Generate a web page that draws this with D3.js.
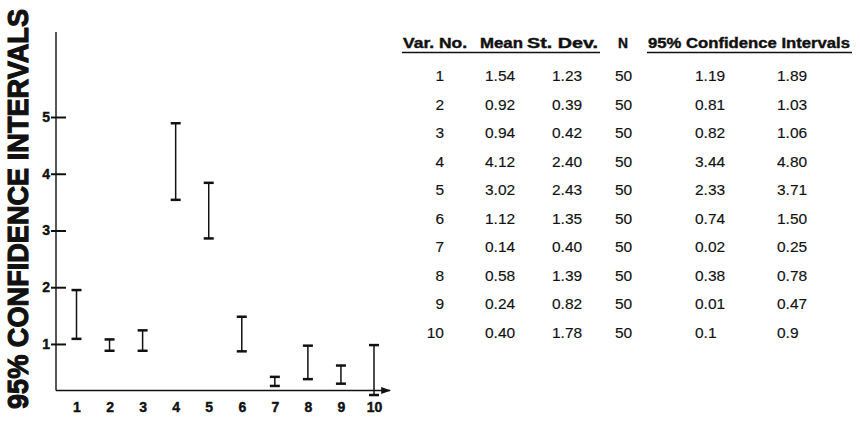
<!DOCTYPE html>
<html>
<head>
<meta charset="utf-8">
<script src="https://cdn.jsdelivr.net/npm/d3@7"></script>
<style>
  html, body { margin: 0; padding: 0; background: #fff; }
  svg { display: block; }
  text { font-family: "Liberation Sans", Arial, Helvetica, sans-serif; fill: #111; }
</style>
</head>
<body>
<svg id="chart" width="860" height="425"></svg>
<script>
// ---- data ----
const categories = [1, 2, 3, 4, 5, 6, 7, 8, 9, 10];
// intervals as drawn in the plot
const plotLow  = [1.09, 0.88, 0.88, 3.54, 2.86, 0.87, 0.26, 0.38, 0.30, 0.10];
const plotHigh = [1.95, 1.08, 1.24, 4.89, 3.84, 1.48, 0.42, 0.97, 0.62, 0.98];
const yTicks = [1, 2, 3, 4, 5];
// table
const tableHeaders = ["Var. No.", "Mean", "St. Dev.", "N", "95% Confidence Intervals"];
const varNo  = ["1", "2", "3", "4", "5", "6", "7", "8", "9", "10"];
const means  = ["1.54", "0.92", "0.94", "4.12", "3.02", "1.12", "0.14", "0.58", "0.24", "0.40"];
const stDevs = ["1.23", "0.39", "0.42", "2.40", "2.43", "1.35", "0.40", "1.39", "0.82", "1.78"];
const ns     = ["50", "50", "50", "50", "50", "50", "50", "50", "50", "50"];
const ciLow  = ["1.19", "0.81", "0.82", "3.44", "2.33", "0.74", "0.02", "0.38", "0.01", "0.1"];
const ciHigh = ["1.89", "1.03", "1.06", "4.80", "3.71", "1.50", "0.25", "0.78", "0.47", "0.9"];
const yTitle = "95% CONFIDENCE INTERVALS";

// ---- chart ----
const svg = d3.select("#chart");
const ink = "#111";

const x = d3.scaleLinear().domain([1, 10]).range([76.5, 374]);
const y = d3.scaleLinear().domain([0, 5]).range([400.7, 117]);
const axisX = 56;
const baseVal = 0.18;   // level of the horizontal axis
const topVal = 6.5;     // top of the vertical axis

// vertical axis with ticks
const yAxis = d3.axisLeft(y).tickValues(yTicks).tickSize(4).tickPadding(2).tickFormat(d3.format("d"));
const gy = svg.append("g").attr("transform", `translate(${axisX},0)`).call(yAxis);
gy.select(".domain").remove();
gy.selectAll(".tick line").attr("stroke", ink).attr("stroke-width", 2).attr("x2", -5);
gy.selectAll(".tick").append("line").attr("x1", 0).attr("x2", 10).attr("stroke", ink).attr("stroke-width", 2);
gy.selectAll(".tick text").attr("font-size", 14).attr("font-weight", "bold").attr("fill", ink)
  .attr("stroke", ink).attr("stroke-width", 0.4);

svg.append("line")
  .attr("x1", axisX).attr("x2", axisX)
  .attr("y1", y(topVal)).attr("y2", y(baseVal))
  .attr("stroke", ink).attr("stroke-width", 1.4);

// horizontal axis with arrow
svg.append("defs").append("marker")
  .attr("id", "arrow").attr("viewBox", "0 0 10 10").attr("refX", 9).attr("refY", 5)
  .attr("markerWidth", 7).attr("markerHeight", 7).attr("orient", "auto")
  .append("path").attr("d", "M0,1.5 L10,5 L0,8.5 z").attr("fill", ink);
svg.append("line")
  .attr("x1", axisX).attr("x2", x(10) + 16)
  .attr("y1", y(baseVal)).attr("y2", y(baseVal))
  .attr("stroke", ink).attr("stroke-width", 1.4)
  .attr("marker-end", "url(#arrow)");

// x tick labels
const xAxis = d3.axisBottom(x).tickValues(categories).tickSize(0).tickPadding(0).tickFormat(d3.format("d"));
const gx = svg.append("g").attr("transform", `translate(0,${y(baseVal) + 12})`).call(xAxis);
gx.select(".domain").remove();
gx.selectAll(".tick text").attr("font-size", 14).attr("font-weight", "bold").attr("fill", ink)
  .attr("stroke", ink).attr("stroke-width", 0.4);

// error bars
const capW = 10;
const bars = svg.append("g").selectAll("g").data(categories).join("g");
bars.append("line")
  .attr("x1", (d) => x(d)).attr("x2", (d) => x(d))
  .attr("y1", (d, i) => y(plotHigh[i])).attr("y2", (d, i) => y(plotLow[i]))
  .attr("stroke", ink).attr("stroke-width", 1.5);
bars.append("line")
  .attr("x1", (d) => x(d) - capW / 2).attr("x2", (d) => x(d) + capW / 2)
  .attr("y1", (d, i) => y(plotHigh[i])).attr("y2", (d, i) => y(plotHigh[i]))
  .attr("stroke", ink).attr("stroke-width", 2.5);
bars.append("line")
  .attr("x1", (d) => x(d) - capW / 2).attr("x2", (d) => x(d) + capW / 2)
  .attr("y1", (d, i) => y(plotLow[i])).attr("y2", (d, i) => y(plotLow[i]))
  .attr("stroke", ink).attr("stroke-width", 2.5);

// y title
svg.append("text")
  .attr("transform", "translate(18,209) rotate(-90) scale(1,1.12)")
  .attr("text-anchor", "middle").attr("dominant-baseline", "central")
  .attr("font-size", 26).attr("font-weight", 900)
  .attr("stroke", ink).attr("stroke-width", 1)
  .attr("textLength", 400).attr("lengthAdjust", "spacingAndGlyphs")
  .text(yTitle);

// ---- table ----
const headX = [403, 480, 527, 618, 648];
const headW = [64, 43, 71, 10, 202];
const tbl = svg.append("g");
tbl.selectAll("text.head").data(tableHeaders).join("text")
  .attr("class", "head")
  .attr("x", (d, i) => headX[i]).attr("y", 48)
  .attr("font-size", 14).attr("font-weight", "bold")
  .attr("stroke", ink).attr("stroke-width", 0.4)
  .attr("textLength", (d, i) => headW[i]).attr("lengthAdjust", "spacingAndGlyphs")
  .text((d) => d);
tbl.append("line").attr("x1", 402).attr("x2", 600).attr("y1", 52.5).attr("y2", 52.5)
  .attr("stroke", ink).attr("stroke-width", 1.5);
tbl.append("line").attr("x1", 647).attr("x2", 852).attr("y1", 52.5).attr("y2", 52.5)
  .attr("stroke", ink).attr("stroke-width", 1.5);

const rowY = d3.scalePoint().domain(varNo).range([81, 337.5]);
const cols = [
  { vals: varNo, x: 444, anchor: "end" },
  { vals: means, x: 485, anchor: "start" },
  { vals: stDevs, x: 552, anchor: "start" },
  { vals: ns, x: 615, anchor: "start" },
  { vals: ciLow, x: 695, anchor: "start" },
  { vals: ciHigh, x: 777, anchor: "start" }
];
cols.forEach((c) => {
  tbl.append("g").selectAll("text").data(c.vals).join("text")
    .attr("x", c.x).attr("y", (d, i) => rowY(varNo[i]))
    .attr("text-anchor", c.anchor)
    .attr("font-size", 15.5)
    .attr("stroke", ink).attr("stroke-width", 0.15)
    .text((d) => d);
});
</script>
</body>
</html>
